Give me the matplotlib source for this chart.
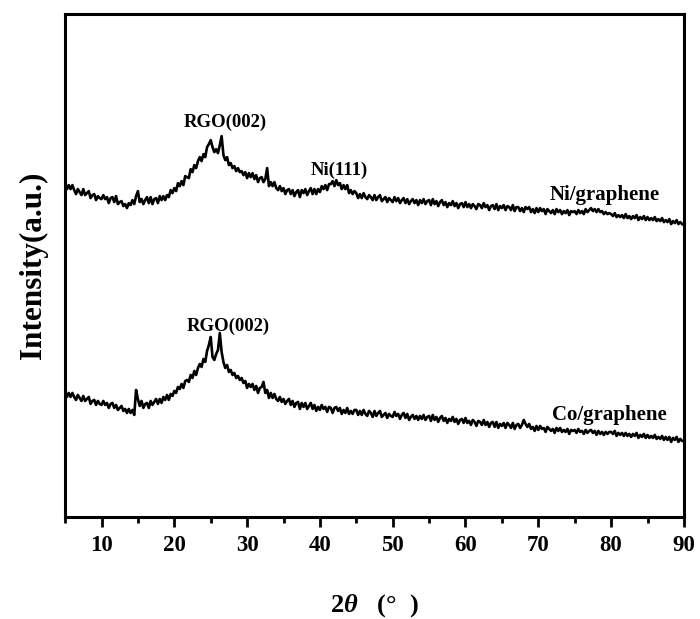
# XRD patterns of Ni/graphene and Co/graphene composites
import numpy as np
import matplotlib
matplotlib.use('Agg')
import matplotlib.pyplot as plt
from matplotlib.ticker import MultipleLocator

plt.rcParams['font.family'] = 'Liberation Serif'
plt.rcParams['font.weight'] = 'bold'
plt.rcParams['mathtext.fontset'] = 'custom'
plt.rcParams['mathtext.rm'] = 'Liberation Serif:bold'
plt.rcParams['mathtext.it'] = 'Liberation Serif:italic:bold'

# scan grid: 5-90 deg, 0.25 deg step
two_theta = np.arange(5, 90.001, 0.25)

# Ni/graphene (offset upward)
ni_graphene = [
    334, 328, 332, 328, 332, 327, 323, 328, 325, 322, 328, 322, 324, 326, 319, 322, 323, 317, 321, 319,
    318, 322, 318, 320, 314, 319, 320, 315, 321, 313, 315, 316, 311, 313, 309, 314, 312, 317, 313, 321,
    326, 315, 318, 313, 317, 320, 314, 320, 313, 318, 319, 314, 321, 317, 321, 317, 322, 320, 327, 324,
    329, 326, 334, 331, 336, 332, 341, 340, 339, 348, 345, 352, 349, 356, 360, 356, 363, 360, 370, 373,
    377, 370, 365, 368, 364, 372, 381, 362, 357, 360, 352, 354, 349, 351, 346, 349, 345, 346, 342, 345,
    339, 344, 340, 344, 338, 342, 335, 339, 340, 335, 338, 349, 331, 335, 331, 335, 329, 327, 331, 326,
    329, 323, 327, 328, 323, 327, 321, 325, 327, 320, 327, 324, 328, 322, 326, 329, 323, 328, 323, 328,
    325, 331, 328, 332, 327, 333, 333, 336, 331, 337, 332, 334, 328, 332, 328, 332, 324, 327, 323, 326,
    324, 319, 323, 319, 324, 320, 318, 322, 320, 317, 322, 317, 320, 322, 316, 318, 320, 315, 319, 317,
    315, 320, 316, 319, 314, 317, 319, 314, 318, 313, 316, 318, 314, 317, 312, 317, 314, 318, 313, 316,
    317, 312, 318, 313, 316, 311, 315, 317, 312, 315, 310, 314, 312, 316, 311, 314, 309, 313, 314, 310,
    315, 310, 313, 309, 313, 311, 308, 313, 312, 309, 314, 310, 312, 307, 311, 312, 308, 313, 307, 311,
    309, 312, 307, 311, 310, 307, 312, 306, 310, 310, 306, 309, 305, 310, 308, 310, 305, 308, 304, 309,
    305, 309, 306, 308, 303, 308, 306, 304, 307, 303, 308, 305, 307, 303, 306, 304, 307, 302, 306, 305,
    306, 303, 307, 304, 306, 303, 308, 305, 307, 309, 306, 308, 305, 308, 305, 306, 303, 305, 303, 304,
    303, 301, 304, 300, 302, 300, 302, 299, 303, 299, 301, 298, 301, 299, 302, 297, 300, 298, 301, 297,
    300, 297, 299, 297, 300, 296, 298, 296, 299, 295, 297, 295, 298, 293, 296, 294, 297, 293, 295, 293,
    292,
]

# Co/graphene
co_graphene = [
    126, 120, 124, 120, 124, 120, 117, 122, 119, 116, 121, 116, 118, 120, 113, 116, 117, 112, 116, 113,
    112, 116, 112, 114, 109, 113, 114, 109, 112, 107, 109, 111, 106, 108, 104, 108, 104, 107, 102, 127,
    118, 111, 116, 109, 113, 114, 109, 116, 112, 115, 118, 113, 118, 114, 120, 117, 122, 117, 123, 121,
    126, 124, 130, 128, 133, 129, 136, 137, 135, 142, 139, 146, 142, 149, 153, 150, 158, 155, 166, 172,
    180, 160, 157, 163, 167, 184, 165, 155, 149, 152, 145, 147, 142, 144, 139, 141, 137, 139, 134, 136,
    129, 133, 130, 133, 127, 131, 124, 129, 130, 135, 124, 127, 119, 124, 119, 123, 118, 116, 120, 115,
    118, 113, 116, 118, 112, 116, 110, 114, 115, 108, 114, 110, 114, 108, 111, 114, 108, 112, 106, 110,
    107, 112, 108, 110, 105, 110, 109, 104, 109, 110, 106, 109, 103, 107, 104, 109, 103, 106, 103, 107,
    107, 102, 106, 102, 107, 103, 101, 106, 104, 100, 106, 101, 104, 106, 100, 102, 104, 99, 103, 101,
    100, 105, 101, 103, 98, 102, 104, 99, 103, 97, 100, 102, 98, 101, 97, 101, 98, 102, 97, 100,
    101, 96, 102, 97, 100, 95, 99, 101, 96, 99, 94, 98, 96, 100, 95, 98, 93, 97, 98, 94,
    99, 94, 96, 92, 97, 95, 91, 96, 95, 92, 97, 92, 95, 90, 94, 95, 90, 95, 89, 93,
    91, 94, 89, 94, 92, 89, 94, 88, 92, 93, 89, 92, 97, 93, 90, 93, 88, 90, 86, 91,
    87, 91, 88, 89, 85, 90, 88, 86, 88, 84, 89, 86, 89, 85, 87, 85, 88, 83, 87, 86,
    87, 84, 88, 85, 86, 83, 87, 84, 86, 87, 84, 86, 82, 86, 83, 85, 82, 85, 83, 85,
    85, 83, 86, 81, 84, 82, 84, 81, 84, 81, 83, 80, 83, 81, 84, 79, 82, 80, 83, 79,
    82, 79, 81, 79, 82, 78, 80, 78, 81, 77, 80, 77, 80, 75, 79, 77, 80, 75, 78, 76,
    76,
]

# peak / sample labels: (text, 2theta, intensity, fontsize)
labels = [
    ('RGO(002)', 27.0, 395, 13.5),
    ('Ni(111)', 42.7, 347, 13.5),
    ('Ni/graphene', 79.1, 322, 15),
    ('RGO(002)', 27.4, 191, 13.5),
    ('Co/graphene', 79.8, 102, 15),
]

fig = plt.figure(figsize=(7, 6.19), dpi=100)
ax = fig.add_axes([0.093, 0.165, 0.884, 0.812])

ax.plot(two_theta, ni_graphene, color='black', lw=1.9)
ax.plot(two_theta, co_graphene, color='black', lw=1.9)

for text, x, y, fs in labels:
    ax.text(x, y, text, ha='center', va='center', fontsize=fs, fontweight='bold')

ax.set_xlim(5, 90)
ax.set_ylim(0, 503)
ax.xaxis.set_major_locator(MultipleLocator(10))
ax.xaxis.set_minor_locator(MultipleLocator(5))
ax.tick_params(axis='x', which='major', direction='out', length=7, width=2,
               labelsize=16.5, pad=6)
ax.tick_params(axis='x', which='minor', direction='out', length=4, width=2)
ax.set_yticks([])
for lbl in ax.get_xticklabels():
    lbl.set_fontweight('bold')
for sp in ax.spines.values():
    sp.set_linewidth(2.2)

ax.set_xlabel(r'2$\theta$   (°  )', fontsize=19, fontweight='bold', labelpad=26)
ax.set_ylabel('Intensity(a.u.)', fontsize=22.5, fontweight='bold', labelpad=12)

fig.savefig('out.png', dpi=100)
